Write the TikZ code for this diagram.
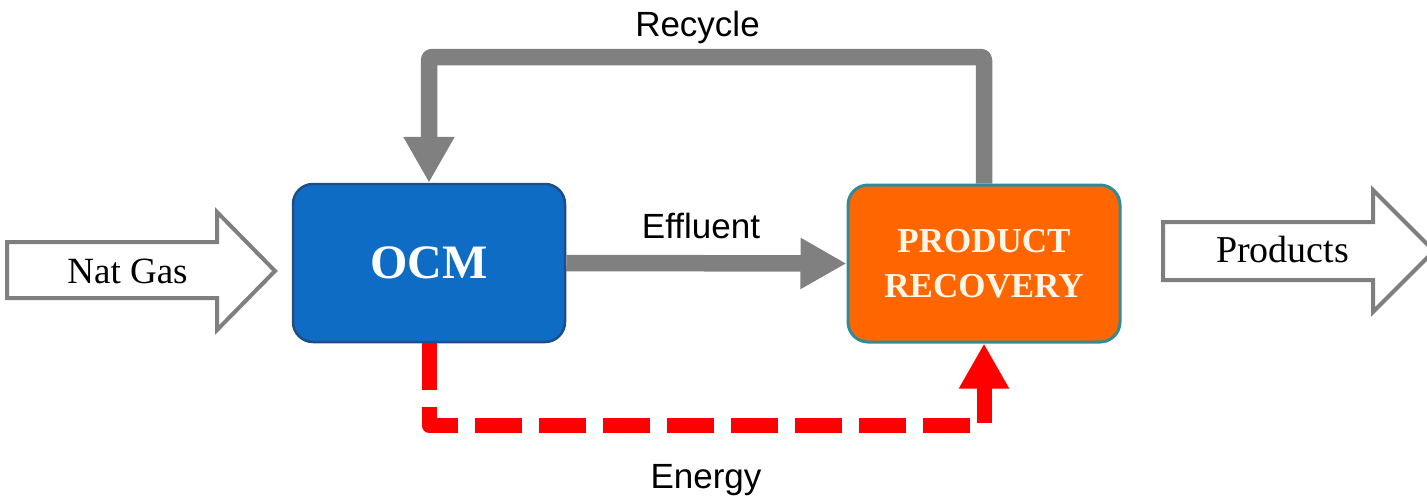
\documentclass[tikz,border=0pt]{standalone}
\usepackage{fontspec}
\setmainfont{Liberation Serif}
\newfontfamily\labelsans{Liberation Sans}
\usetikzlibrary{arrows.meta}
\definecolor{ocmblue}{HTML}{0F6CC4}
\definecolor{ocmedge}{HTML}{1F4E86}
\definecolor{prorange}{HTML}{FF6600}
\definecolor{predge}{HTML}{2E8B9A}
\definecolor{prtext}{HTML}{FFF6E8}
\definecolor{flowgray}{HTML}{808080}
\definecolor{blockgray}{HTML}{7F7F7F}
\definecolor{energyred}{HTML}{FF0000}
\tikzset{
  procbox/.style={draw, rounded corners=20pt, line width=2.5pt, minimum width=272pt, inner sep=0pt, align=center},
  grayflow/.style={draw=flowgray, line width=16.5pt, line join=round, rounded corners=3pt, -{Triangle[length=46pt,width=48pt]}},
  energyflow/.style={draw=energyred, line width=15pt, line join=round, dash pattern=on 47pt off 17pt, -{Triangle[length=45pt,width=47pt]}},
  blockarrow/.style={draw=blockgray, fill=white, line width=4pt, line join=miter},
  sanslabel/.style={font=\labelsans\fontsize{35}{42}\selectfont, anchor=base, inner sep=0pt},
  seriflabel/.style={font=\fontsize{37}{44}\selectfont, anchor=base, inner sep=0pt}
}
\begin{document}
\begin{tikzpicture}[x=1pt,y=-1pt]
\useasboundingbox (0,0) rectangle (1427,498);
\begin{scope}
\clip (0,0) rectangle (1427,498);
% Nat Gas block arrow
\draw[blockarrow] (7,242) -- (217,242) -- (217,212) -- (275,271) -- (217,330) -- (217,298) -- (7,298) -- cycle;
\node[seriflabel] (natgas) at (127.5,283) {Nat Gas};
% Products block arrow
\draw[blockarrow] (1163,222) -- (1373,222) -- (1373,190) -- (1434,251) -- (1373,312) -- (1373,280) -- (1163,280) -- cycle;
\node[seriflabel, font=\fontsize{38}{44}\selectfont] (products) at (1282.5,262) {Products};
\end{scope}
% process boxes
\node[procbox, fill=ocmblue, draw=ocmedge, minimum height=158pt, text=white,
      font=\bfseries\fontsize{48}{56}\selectfont] (ocm) at (429,263) {OCM};
\node[procbox, fill=prorange, draw=predge, line width=3pt, minimum height=157pt, text=prtext,
      font=\bfseries\fontsize{35}{45}\selectfont] (pr) at (984,263.5) {PRODUCT\\RECOVERY};
% connectors
\coordinate (rtop) at (700,57);
\coordinate (ebot) at (700,425.5);
\draw[grayflow] (ocm.east) -- (pr.west);
\draw[grayflow] (pr.north) |- (rtop) -| (ocm.north);
\draw[energyflow] (ocm.south) |- (ebot) -| (pr.south);
% labels
\node[sanslabel] (lrecycle) at (697.5,36) {Recycle};
\node[sanslabel] (leffluent) at (701,238) {Effluent};
\node[sanslabel] (lenergy) at (706,488) {Energy};
\end{tikzpicture}
\end{document}
